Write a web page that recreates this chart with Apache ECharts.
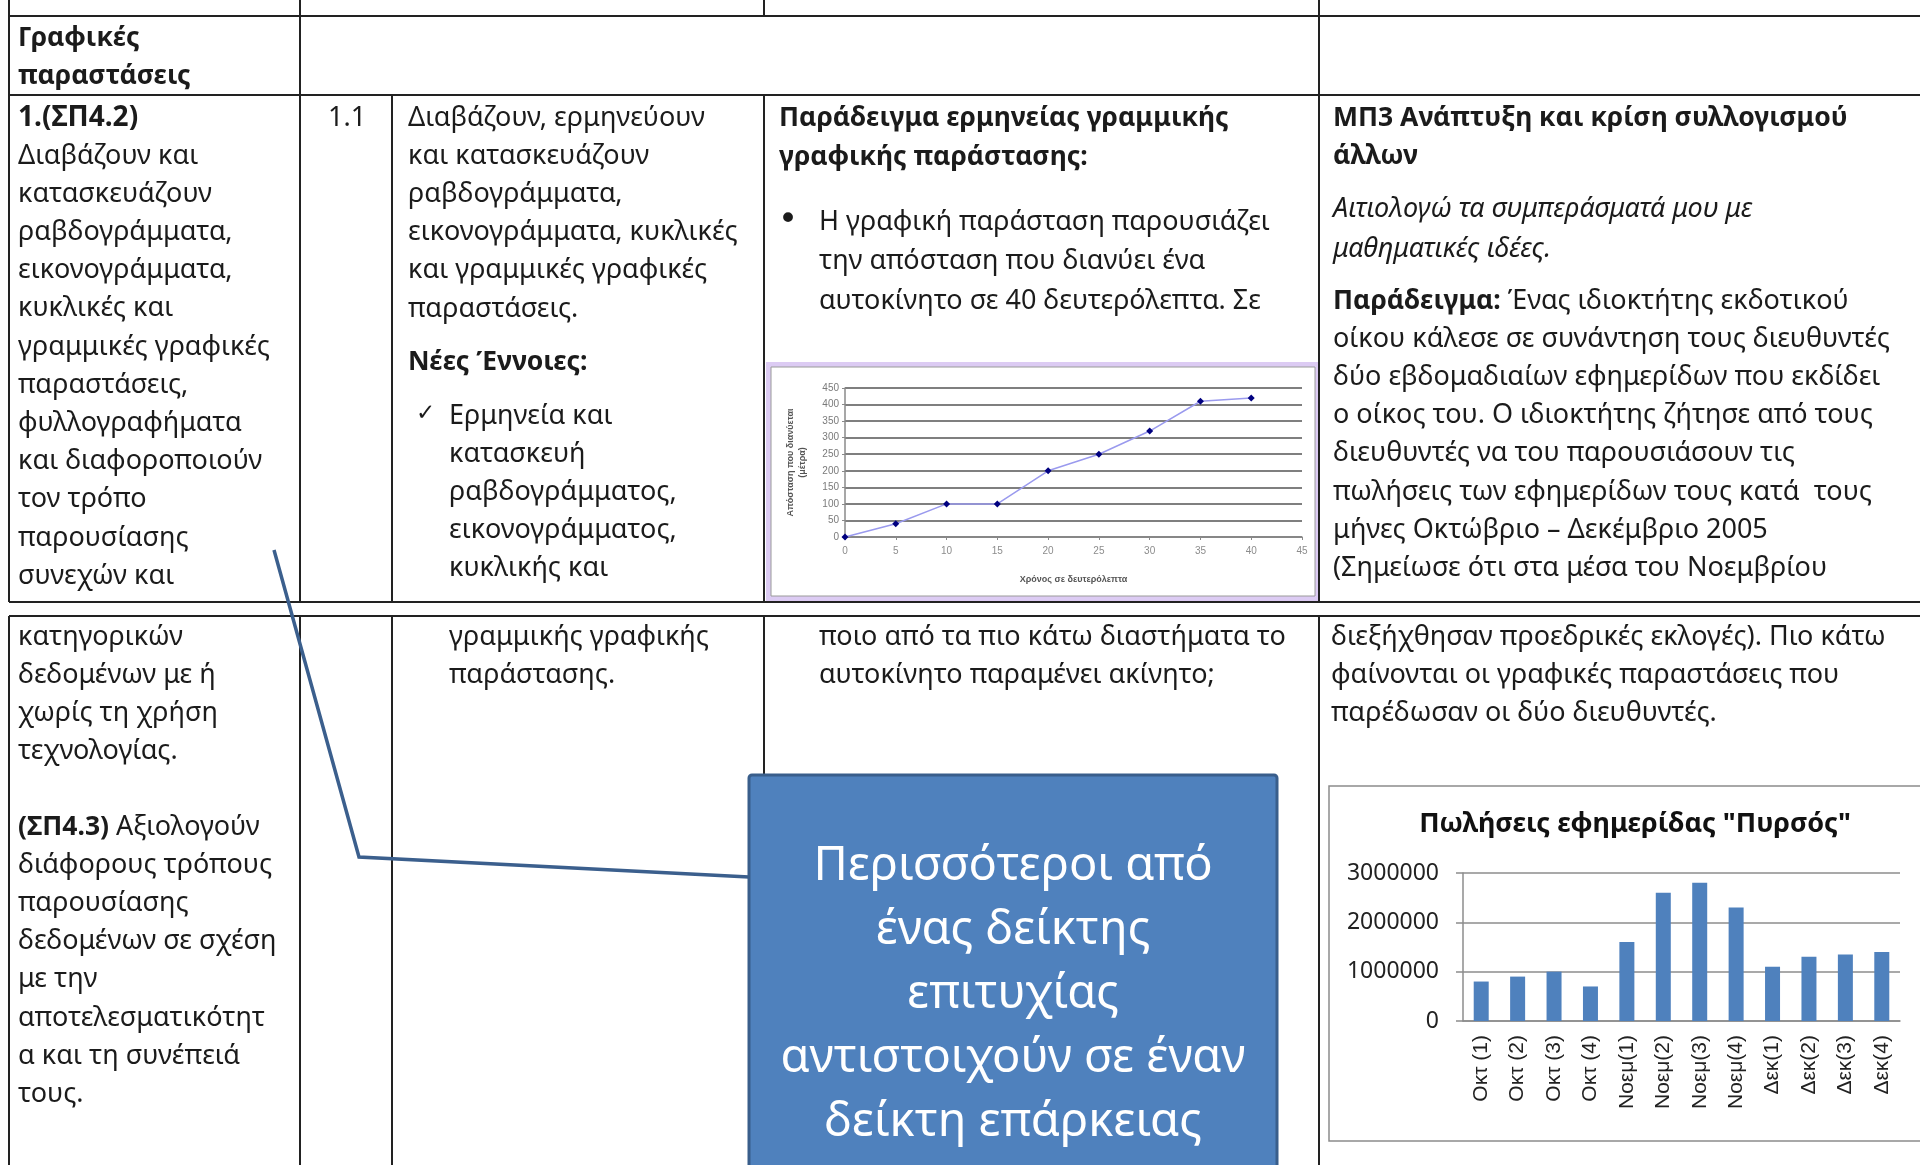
<!DOCTYPE html>
<html>
<head>
<meta charset="utf-8">
<title>Γραφικές παραστάσεις</title>
<script src="https://cdn.jsdelivr.net/npm/echarts@6/dist/echarts.min.js"></script>
<style>
  html, body { margin: 0; padding: 0; background: #fff; }
  #main { width: 1920px; height: 1165px; }
</style>
</head>
<body>
<div id="main"></div>
<script>
// line chart: time in seconds / distance in metres
var timeSec = [0, 5, 10, 15, 20, 25, 30, 35, 40];
var distanceM = [0, 40, 100, 100, 200, 250, 320, 410, 420];
// bar chart: weekly sales of "Πυρσός"
var weeks = ['Οκτ (1)', 'Οκτ (2)', 'Οκτ (3)', 'Οκτ (4)', 'Νοεμ(1)', 'Νοεμ(2)', 'Νοεμ(3)', 'Νοεμ(4)', 'Δεκ(1)', 'Δεκ(2)', 'Δεκ(3)', 'Δεκ(4)'];
var sales = [800000, 900000, 1000000, 700000, 1600000, 2600000, 2800000, 2300000, 1100000, 1300000, 1350000, 1400000];

var FONT = '"Noto Sans", "Open Sans", sans-serif';
var FS = 27;
var FSB = 26.5;
var TXT = '#1b1b1b';
var STEP = 38.2;

var els = [];

function txt(x, y, s, opt) {
  opt = opt || {};
  els.push({
    type: 'text', x: x, y: y, z: 5,
    style: {
      text: s,
      fill: opt.fill || TXT,
      fontSize: opt.size || (opt.bold ? FSB : FS),
      fontFamily: opt.family || FONT,
      fontWeight: opt.bold ? 'bold' : 'normal',
      fontStyle: opt.italic ? 'italic' : 'normal',
      align: opt.align || 'left',
      verticalAlign: 'middle',
      rich: { b: { fontWeight: 'bold', fontSize: FSB, fontFamily: FONT, fill: TXT } }
    }
  });
}
function col(x, y0, lines, opt, step) {
  lines.forEach(function (s, i) { txt(x, y0 + i * (step || STEP), s, opt); });
}
function line(x1, y1, x2, y2, w, c) {
  els.push({ type: 'line', z: 3, shape: { x1: x1, y1: y1, x2: x2, y2: y2 },
    style: { stroke: c || '#222', lineWidth: w || 2 } });
}

// table borders
line(9, 0, 9, 602); line(300, 0, 300, 602); line(764, 0, 764, 16); line(1319, 0, 1319, 602);
line(392, 95, 392, 602); line(764, 95, 764, 602);
line(9, 16, 1920, 16); line(9, 95, 1920, 95); line(9, 602, 1920, 602);
line(9, 616, 1920, 616);
line(9, 616, 9, 1165); line(300, 616, 300, 1165); line(392, 616, 392, 1165);
line(764, 616, 764, 780); line(1319, 616, 1319, 1165);

// column 1
col(18, 38, ['Γραφικές', 'παραστάσεις'], { bold: true });
txt(18, 118, '1.(ΣΠ4.2)', { bold: true, size: 28 });
col(18, 156, ['Διαβάζουν και', 'κατασκευάζουν', 'ραβδογράμματα,', 'εικονογράμματα,', 'κυκλικές και',
  'γραμμικές γραφικές', 'παραστάσεις,', 'φυλλογραφήματα', 'και διαφοροποιούν', 'τον τρόπο',
  'παρουσίασης', 'συνεχών και']);
col(18, 637, ['κατηγορικών', 'δεδομένων με ή', 'χωρίς τη χρήση', 'τεχνολογίας.']);
col(18, 827, ['{b|(ΣΠ4.3)} Αξιολογούν', 'διάφορους τρόπους', 'παρουσίασης', 'δεδομένων σε σχέση',
  'με την', 'αποτελεσματικότητ', 'α και τη συνέπειά', 'τους.']);

// column 2
txt(328, 118, '1.1');

// column 3
col(408, 118, ['Διαβάζουν, ερμηνεύουν', 'και κατασκευάζουν', 'ραβδογράμματα,', 'εικονογράμματα, κυκλικές',
  'και γραμμικές γραφικές', 'παραστάσεις.']);
txt(408, 362, 'Νέες Έννοιες:', { bold: true });
txt(416, 414, '✓', { family: '"DejaVu Sans"', size: 23 });
col(449, 416, ['Ερμηνεία και', 'κατασκευή', 'ραβδογράμματος,', 'εικονογράμματος,', 'κυκλικής και']);
col(449, 637, ['γραμμικής γραφικής', 'παράστασης.']);

// column 4
col(779, 118, ['Παράδειγμα ερμηνείας γραμμικής', 'γραφικής παράστασης:'], { bold: true }, 39);
txt(778, 221, '•', { size: 34, family: '"DejaVu Sans"' });
col(819, 222, ['Η γραφική παράσταση παρουσιάζει', 'την απόσταση που διανύει ένα',
  'αυτοκίνητο σε 40 δευτερόλεπτα. Σε'], {}, 39.5);
col(819, 637, ['ποιο από τα πιο κάτω διαστήματα το', 'αυτοκίνητο παραμένει ακίνητο;']);

// column 5
col(1333, 118, ['ΜΠ3 Ανάπτυξη και κρίση συλλογισμού', 'άλλων'], { bold: true });
col(1333, 209, ['Αιτιολογώ τα συμπεράσματά μου με', 'μαθηματικές ιδέες.'], { italic: true }, 40);
col(1333, 301, ['{b|Παράδειγμα:} Ένας ιδιοκτήτης εκδοτικού', 'οίκου κάλεσε σε συνάντηση τους διευθυντές',
  'δύο εβδομαδιαίων εφημερίδων που εκδίδει', 'ο οίκος του. Ο ιδιοκτήτης ζήτησε από τους',
  'διευθυντές να του παρουσιάσουν τις', 'πωλήσεις των εφημερίδων τους κατά  τους',
  'μήνες Οκτώβριο – Δεκέμβριο 2005', '(Σημείωσε ότι στα μέσα του Νοεμβρίου']);
col(1331, 637, ['διεξήχθησαν προεδρικές εκλογές). Πιο κάτω', 'φαίνονται οι γραφικές παραστάσεις που',
  'παρέδωσαν οι δύο διευθυντές.']);

// frame of the line chart
els.push({ type: 'rect', z: -1, shape: { x: 766, y: 362, width: 552, height: 240 },
  style: { fill: '#dccbf3' } });
els.push({ type: 'rect', z: -1, shape: { x: 771, y: 367, width: 544, height: 229 },
  style: { fill: '#fff', stroke: '#9a9a9a', lineWidth: 1 } });
// frame of the bar chart
els.push({ type: 'rect', z: -1, shape: { x: 1329, y: 786, width: 620, height: 355 },
  style: { fill: '#fff', stroke: '#8c8c8c', lineWidth: 1.5 } });

// callout with connector
els.push({ type: 'polyline', z: 50, shape: { points: [[274, 550], [359, 857], [749, 877]] },
  style: { stroke: '#3b5f8d', lineWidth: 3.5, fill: null } });
els.push({ type: 'rect', z: 60, shape: { x: 749, y: 775, width: 528, height: 420, r: 3 },
  style: { fill: '#4f81bd', stroke: '#395e8b', lineWidth: 3 } });
els.push({ type: 'text', z: 61, x: 1013, y: 835, style: {
  text: 'Περισσότεροι από\nένας δείκτης\nεπιτυχίας\nαντιστοιχούν σε έναν\nδείκτη επάρκειας',
  fill: '#fff', fontSize: 47, fontFamily: FONT, lineHeight: 64, align: 'center', verticalAlign: 'top' } });

var chart = echarts.init(document.getElementById('main'));
var option = {
  animation: false,
  backgroundColor: '#fff',
  title: {
    text: 'Πωλήσεις εφημερίδας "Πυρσός"',
    left: 1630, top: 806, textAlign: 'center',
    textStyle: { fontSize: 27, fontWeight: 'bold', color: '#111', fontFamily: FONT }
  },
  grid: [
    { left: 845, top: 388, width: 457, height: 149 },
    { left: 1463, top: 873, width: 437, height: 148 }
  ],
  xAxis: [
    {
      gridIndex: 0, type: 'value', min: 0, max: 45, interval: 5,
      axisLine: { lineStyle: { color: '#8a8a8a', width: 1.5 } },
      axisTick: { length: 3, lineStyle: { color: '#8a8a8a' } },
      axisLabel: { color: '#8c8c8c', fontSize: 10, margin: 9, fontFamily: '"Liberation Sans"' },
      splitLine: { show: false },
      name: 'Χρόνος σε δευτερόλεπτα', nameLocation: 'middle', nameGap: 38,
      nameTextStyle: { fontSize: 9, fontWeight: 'bold', color: '#555', fontFamily: '"Liberation Sans"' }
    },
    {
      gridIndex: 1, type: 'category', data: weeks,
      axisLine: { lineStyle: { color: '#8c8c8c', width: 1.5 } },
      axisTick: { length: 7, lineStyle: { color: '#8c8c8c', width: 1.5 } },
      axisLabel: { rotate: 90, fontSize: 21, color: '#222', margin: 14, fontFamily: '"Liberation Sans"' }
    }
  ],
  yAxis: [
    {
      gridIndex: 0, type: 'value', min: 0, max: 450, interval: 50,
      axisLine: { show: true, lineStyle: { color: '#8a8a8a', width: 1.5 } },
      axisTick: { show: true, length: 3, lineStyle: { color: '#8a8a8a' } },
      axisLabel: { color: '#7a7a7a', fontSize: 10, margin: 6, fontFamily: '"Liberation Sans"' },
      splitLine: { lineStyle: { color: '#7f7f7f', width: 2 } },
      name: 'Απόσταση που διανύεται\n(μέτρα)', nameLocation: 'middle', nameRotate: 90, nameGap: 36,
      nameTextStyle: { fontSize: 9, fontWeight: 'bold', color: '#555', lineHeight: 12, fontFamily: '"Liberation Sans"' }
    },
    {
      gridIndex: 1, type: 'value', min: 0, max: 3000000, interval: 1000000,
      axisLine: { show: true, lineStyle: { color: '#8c8c8c', width: 1.5 } },
      axisTick: { show: true, length: 7, lineStyle: { color: '#8c8c8c', width: 1.5 } },
      axisLabel: { color: '#222', fontSize: 23, margin: 24, fontFamily: FONT,
        formatter: function (v) { return String(v); } },
      splitLine: { lineStyle: { color: '#8c8c8c', width: 1.5 } }
    }
  ],
  series: [
    {
      type: 'line', xAxisIndex: 0, yAxisIndex: 0,
      data: timeSec.map(function (t, i) { return [t, distanceM[i]]; }),
      lineStyle: { color: '#9a9aee', width: 1.5 },
      symbol: 'diamond', symbolSize: 7,
      itemStyle: { color: '#000080' }
    },
    {
      type: 'bar', xAxisIndex: 1, yAxisIndex: 1,
      data: sales, barWidth: 15,
      itemStyle: { color: '#4f81bd' }
    }
  ],
  graphic: { elements: els }
};
chart.setOption(option);
</script>
</body>
</html>
